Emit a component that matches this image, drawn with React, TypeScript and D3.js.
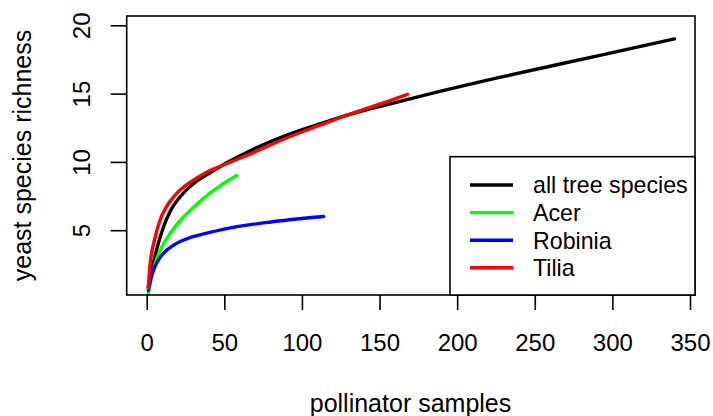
import React, { useEffect, useRef } from "react";
import * as d3 from "d3";

// rarefaction curves
const allX = [1, 3, 5, 7.5, 10.7, 15, 22, 30, 40, 51, 69, 90, 112, 133, 155, 176, 228, 292, 340];
const allY = [0.85, 1.9, 2.95, 4.05, 5.2, 6.35, 7.5, 8.4, 9.15, 9.9, 10.95, 11.95, 12.8, 13.55, 14.2, 14.8, 16.2, 17.8, 19.0];

const acerX = [1, 4.3, 8.6, 15, 23.6, 32.3, 40, 48, 58];
const acerY = [0.35, 2.1, 3.5, 4.75, 5.95, 6.9, 7.65, 8.3, 9.0];

const robiniaX = [1, 3, 5.4, 8, 10.7, 17.2, 25.8, 38.7, 50, 69, 80, 95, 114];
const robiniaY = [0.6, 1.6, 2.35, 2.9, 3.3, 3.9, 4.37, 4.78, 5.08, 5.44, 5.6, 5.8, 6.0];

const tiliaX = [1, 2.1, 5.4, 8.6, 12.9, 19.4, 27.9, 38.7, 51, 69, 90, 112, 133, 155, 168];
const tiliaY = [0.75, 2.4, 4.45, 5.75, 6.75, 7.7, 8.5, 9.25, 9.85, 10.7, 11.75, 12.7, 13.58, 14.42, 14.95];

const seriesNames = ["all tree species", "Acer", "Robinia", "Tilia"];
const seriesColors = ["#000000", "#00ff00", "#0000ff", "#ff0000"];

const xTicks = [0, 50, 100, 150, 200, 250, 300, 350];
const yTicks = [5, 10, 15, 20];

const FONT = "'Liberation Sans', Arial, sans-serif";

export default function App() {
  const ref = useRef<SVGSVGElement>(null);

  useEffect(() => {
    const svg = d3.select(ref.current);
    svg.selectAll("*").remove();

    // plot box in pixels
    const box = { left: 126.7, right: 695, top: 16, bottom: 295 };

    const x = d3.scaleLinear().domain([0, 350]).range([146.7, 690]);
    const y = d3.scaleLinear().domain([0, 20]).range([298.5, 25.3]);

    const data = [
      d3.zip(allX, allY),
      d3.zip(acerX, acerY),
      d3.zip(robiniaX, robiniaY),
      d3.zip(tiliaX, tiliaY),
    ];

    const line = d3
      .line<number[]>()
      .x((d) => x(d[0]))
      .y((d) => y(d[1]))
      .curve(d3.curveMonotoneX);

    // curves (black drawn first, others on top)
    data.forEach((d, i) => {
      svg
        .append("path")
        .datum(d)
        .attr("d", line)
        .attr("fill", "none")
        .attr("stroke", seriesColors[i])
        .attr("stroke-width", 3.4)
        .attr("stroke-linecap", "round");
    });

    // x axis
    const gx = svg
      .append("g")
      .attr("transform", "translate(0," + box.bottom + ")")
      .call(d3.axisBottom(x).tickValues(xTicks).tickSize(15).tickFormat(d3.format("d")));
    gx.select(".domain").remove();
    gx.selectAll("line").attr("stroke", "#000").attr("stroke-width", 1.6);
    gx.selectAll("text")
      .attr("y", 55.7)
      .attr("dy", 0)
      .attr("fill", "#000")
      .style("font-family", FONT)
      .style("font-size", "24px");

    // y axis, labels rotated like R's default
    const gy = svg
      .append("g")
      .attr("transform", "translate(" + box.left + ",0)")
      .call(d3.axisLeft(y).tickValues(yTicks).tickSize(16).tickFormat(d3.format("d")));
    gy.select(".domain").remove();
    gy.selectAll("line").attr("stroke", "#000").attr("stroke-width", 1.6);
    gy.selectAll("text")
      .attr("transform", "rotate(-90)")
      .attr("x", 0)
      .attr("y", -36.7)
      .attr("dy", 0)
      .attr("text-anchor", "middle")
      .attr("fill", "#000")
      .style("font-family", FONT)
      .style("font-size", "24px");

    // frame
    svg
      .append("rect")
      .attr("x", box.left)
      .attr("y", box.top)
      .attr("width", box.right - box.left)
      .attr("height", box.bottom - box.top)
      .attr("fill", "none")
      .attr("stroke", "#000")
      .attr("stroke-width", 1.6);

    // axis titles
    svg
      .append("text")
      .attr("x", 410.5)
      .attr("y", 412)
      .attr("text-anchor", "middle")
      .style("font-family", FONT)
      .style("font-size", "25px")
      .text("pollinator samples");

    svg
      .append("text")
      .attr("text-anchor", "middle")
      .attr("transform", "translate(31," + (box.top + box.bottom) / 2 + ")rotate(-90)")
      .style("font-family", FONT)
      .style("font-size", "25px")
      .text("yeast species richness");

    // legend
    const lg = svg.append("g");
    lg.append("rect")
      .attr("x", 450)
      .attr("y", 156.7)
      .attr("width", box.right - 450)
      .attr("height", box.bottom - 156.7)
      .attr("fill", "#fff")
      .attr("stroke", "#000")
      .attr("stroke-width", 1.6);

    seriesNames.forEach((name, i) => {
      const ly = 185 + i * 27.6;
      lg.append("line")
        .attr("x1", 470)
        .attr("x2", 513)
        .attr("y1", ly)
        .attr("y2", ly)
        .attr("stroke", seriesColors[i])
        .attr("stroke-width", 3.4);
      lg.append("text")
        .attr("x", 533)
        .attr("y", ly)
        .attr("dy", "0.36em")
        .style("font-family", FONT)
        .style("font-size", "23.2px")
        .text(name);
    });
  }, []);

  return (
    <svg
      ref={ref}
      width={713}
      height={416}
      style={{ position: "absolute", left: 0, top: 0, background: "#fff" }}
    />
  );
}
